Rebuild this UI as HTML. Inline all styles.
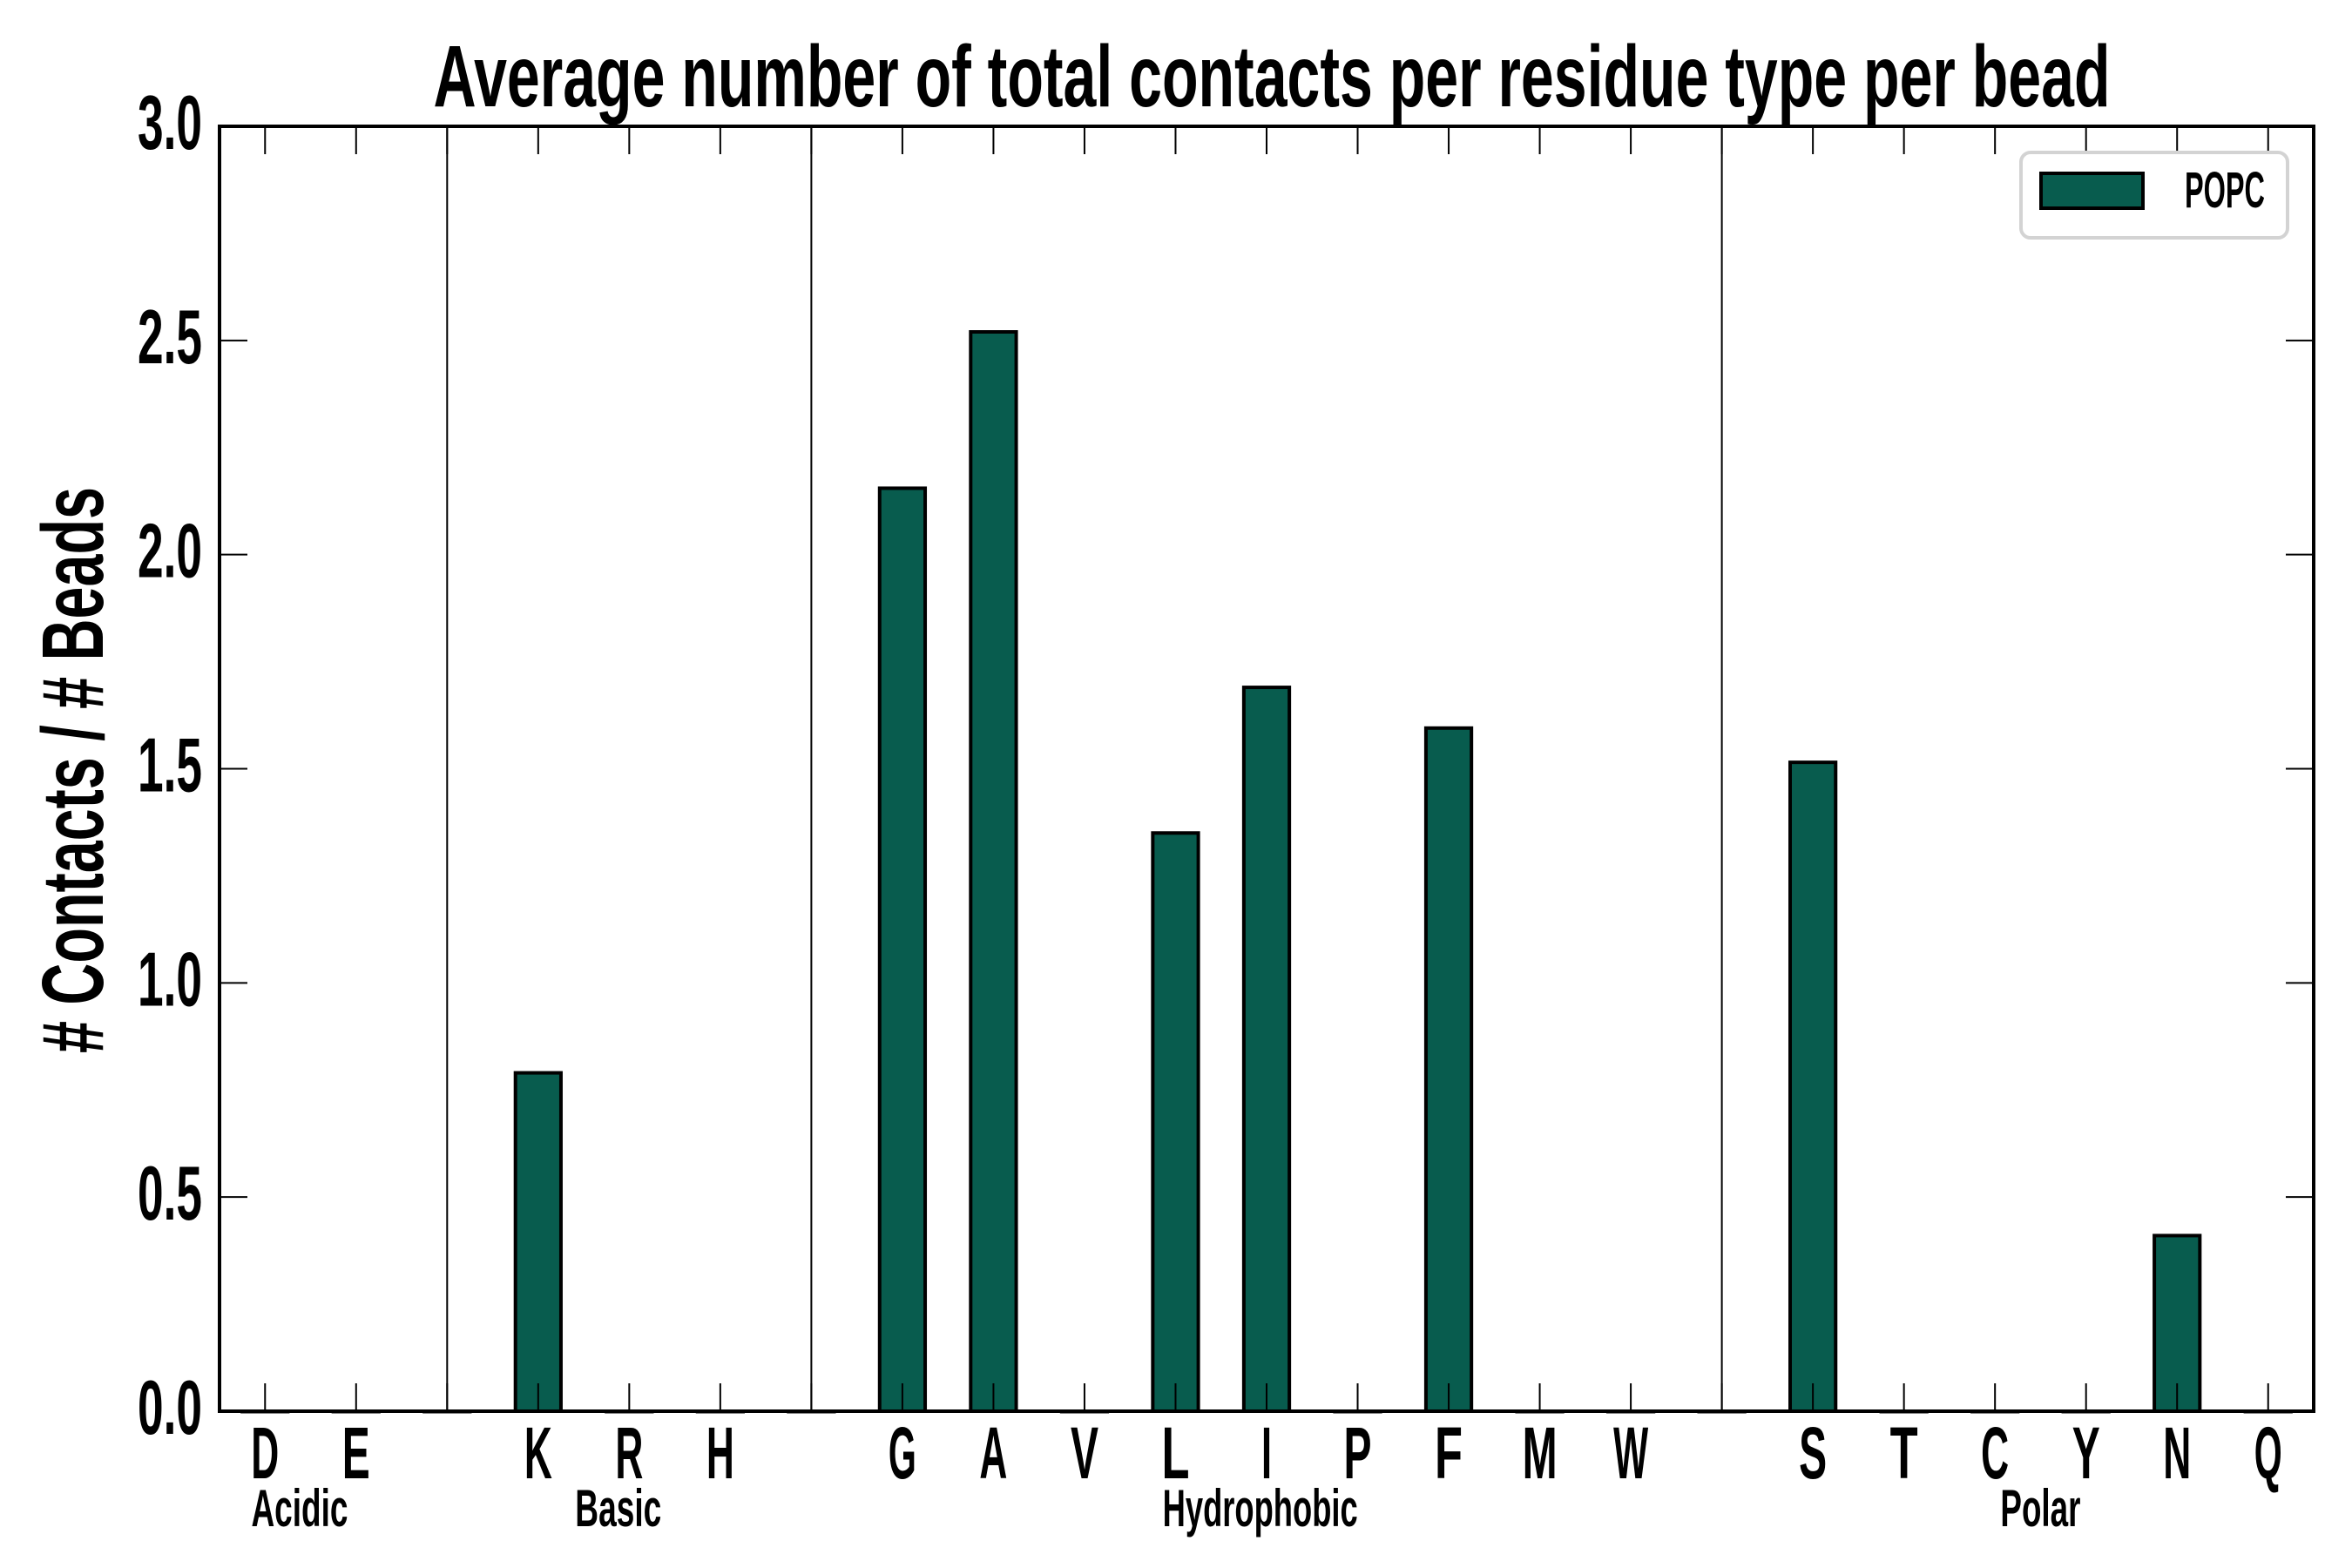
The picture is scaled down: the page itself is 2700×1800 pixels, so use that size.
<!DOCTYPE html>
<html><head><meta charset="utf-8"><style>
html,body{margin:0;padding:0;background:#fff;}
svg{display:block;font-family:"Liberation Sans Narrow","Liberation Sans",sans-serif;font-weight:bold;}
</style></head><body>
<svg id="chart" width="2700" height="1800" viewBox="0 0 2700 1800" xmlns="http://www.w3.org/2000/svg">
<rect width="2700" height="1800" fill="#fff"/>
<text x="1460" y="122" font-size="100" text-anchor="middle" textLength="1925" lengthAdjust="spacingAndGlyphs">Average number of total contacts per residue type per bead</text>
<text transform="translate(118,884) rotate(-90)" font-size="100" text-anchor="middle" textLength="650" lengthAdjust="spacingAndGlyphs"># Contacts / # Beads</text>
<g id="plot"></g>
<g>
<rect x="2320" y="175" width="306" height="98" rx="11" fill="#fff" stroke="#d3d3d3" stroke-width="4"/>
<rect x="2343" y="199" width="117" height="40" fill="#085c4e" stroke="#000" stroke-width="4"/>
<text x="2508" y="238" font-size="58" textLength="92" lengthAdjust="spacingAndGlyphs">POPC</text>
</g>
</svg>
<script>
const categories = ["D","E","","K","R","H","","G","A","V","L","I","P","F","M","W","","S","T","C","Y","N","Q"];
const values = [0,0,0,0.79,0,0,0,2.155,2.52,0,1.35,1.69,0,1.595,0,0,0,1.515,0,0,0,0.41,0];
const separators = [2,6,16];
const yTicks = [0,0.5,1.0,1.5,2.0,2.5,3.0];
const yTickLabels = ["0.0","0.5","1.0","1.5","2.0","2.5","3.0"];
const groupNames = ["Acidic","Basic","Hydrophobic","Polar"];
const groupCenters = [0.38,3.88,10.93,19.5];

const L=252,R=2656,T=145,B=1620,NS='http://www.w3.org/2000/svg';
const xScale = i => L + (i+0.5)*(R-L)/categories.length;
const yScale = v => B - v*(B-T)/3;
const slot=(R-L)/categories.length;
const g=document.getElementById('plot');
function mk(tag,attrs){const e=document.createElementNS(NS,tag);for(const k in attrs)e.setAttribute(k,attrs[k]);g.appendChild(e);return e;}

separators.forEach(s=>{
  const e=mk('line',{x1:xScale(s),x2:xScale(s),y1:T,y2:B,stroke:'#000','stroke-width':2});
  
  
});
values.forEach((v,i)=>{
  const y=yScale(v);
  const r=mk('rect',{x:xScale(i)-slot/4,y:y,width:slot/2,height:Math.max(B-y,0.5),fill:'#085c4e',stroke:'#000','stroke-width':4});
  
  
});
categories.forEach((c,i)=>{
  const x=xScale(i);
  mk('line',{x1:x,x2:x,y1:B,y2:B-32,stroke:'#000','stroke-width':2});
  mk('line',{x1:x,x2:x,y1:T,y2:T+32,stroke:'#000','stroke-width':2});
  if(c){
    const w=(c==='I')?12:(c==='M'||c==='W')?40:32;
    const t=mk('text',{x:x,y:1697,'font-size':84,'text-anchor':'middle',textLength:w,lengthAdjust:'spacingAndGlyphs'});
    t.textContent=c;
    
    
  }
});
yTicks.forEach((v,i)=>{
  const y=yScale(v);
  mk('line',{x1:L,x2:L+32,y1:y,y2:y,stroke:'#000','stroke-width':2});
  mk('line',{x1:R,x2:R-32,y1:y,y2:y,stroke:'#000','stroke-width':2});
  const t=mk('text',{x:232,y:y+26,'font-size':88,'text-anchor':'end',textLength:74,lengthAdjust:'spacingAndGlyphs'});
  t.textContent=yTickLabels[i];
  
  
});
const groupWidths=[111,99,224,92];
groupNames.forEach((n,i)=>{
  const t=mk('text',{x:xScale(groupCenters[i]),y:1752,'font-size':60,'text-anchor':'middle',textLength:groupWidths[i],lengthAdjust:'spacingAndGlyphs'});
  t.textContent=n;
  
  
});
const ax=mk('rect',{x:L,y:T,width:R-L,height:B-T,fill:'none',stroke:'#000','stroke-width':4});


</script>
</body></html>
